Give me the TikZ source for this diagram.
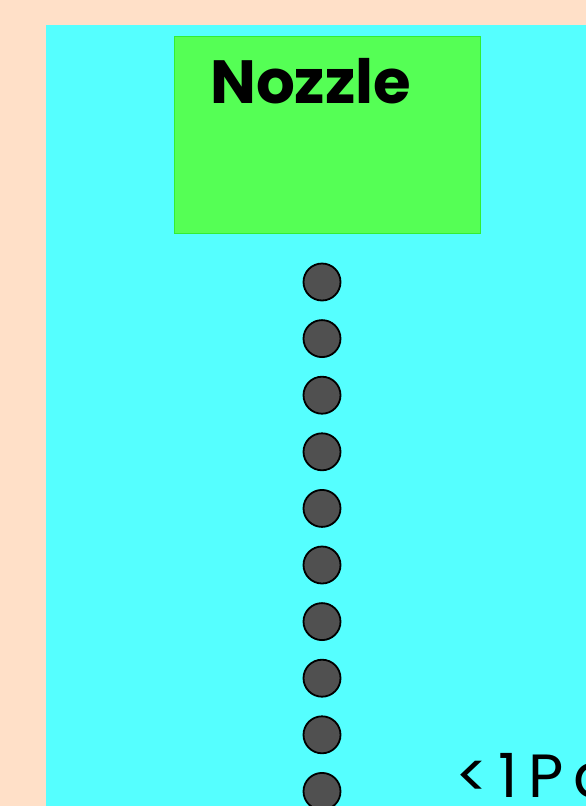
\documentclass[tikz,border=0pt]{standalone}
\usepackage{fontspec}
\setmainfont{Poppins}
\usetikzlibrary{positioning}
\definecolor{peach}{HTML}{FFE0C8}
\definecolor{chamber}{HTML}{55FFFF}
\definecolor{nozzlefill}{HTML}{55FF55}
\definecolor{nozzleline}{HTML}{33EE33}
\definecolor{dropgray}{HTML}{505050}
\tikzset{
  nozzle box/.style={
    rectangle,
    draw=nozzleline,
    line width=1.2pt,
    fill=nozzlefill,
    minimum width=306pt,
    minimum height=197pt,
    inner sep=0pt,
  },
  big label/.style={
    font=\fontsize{61}{61}\selectfont\bfseries,
    inner sep=0pt,
    anchor=base west,
  },
  pressure label/.style={
    font=\fontsize{61}{61}\selectfont\addfontfeature{LetterSpace=16},
    inner sep=0pt,
    anchor=base west,
  },
  droplet/.style={circle, draw=black, line width=1.8pt, fill=dropgray,
    minimum size=37pt, inner sep=0pt},
}
\begin{document}
\begin{tikzpicture}[x=1pt,y=-1pt]
  \useasboundingbox (0,0) rectangle (586,806);
  % background and chamber
  \fill[peach] (0,0) rectangle (586,806);
  \fill[chamber] (46,25) rectangle (586,806);
  \node[nozzle box] (nozzle) at (327.5,135) {};
  \node[big label] (nozzlelabel) at (210,103) {Nozzle};
  % droplet stream
  \foreach \i in {0,...,9}
    \node[droplet] (drop\i) at (322,{282+56.6*\i}) {};
  \node[pressure label] (pressure) at (455,797) {<1Pa};
\end{tikzpicture}
\end{document}
